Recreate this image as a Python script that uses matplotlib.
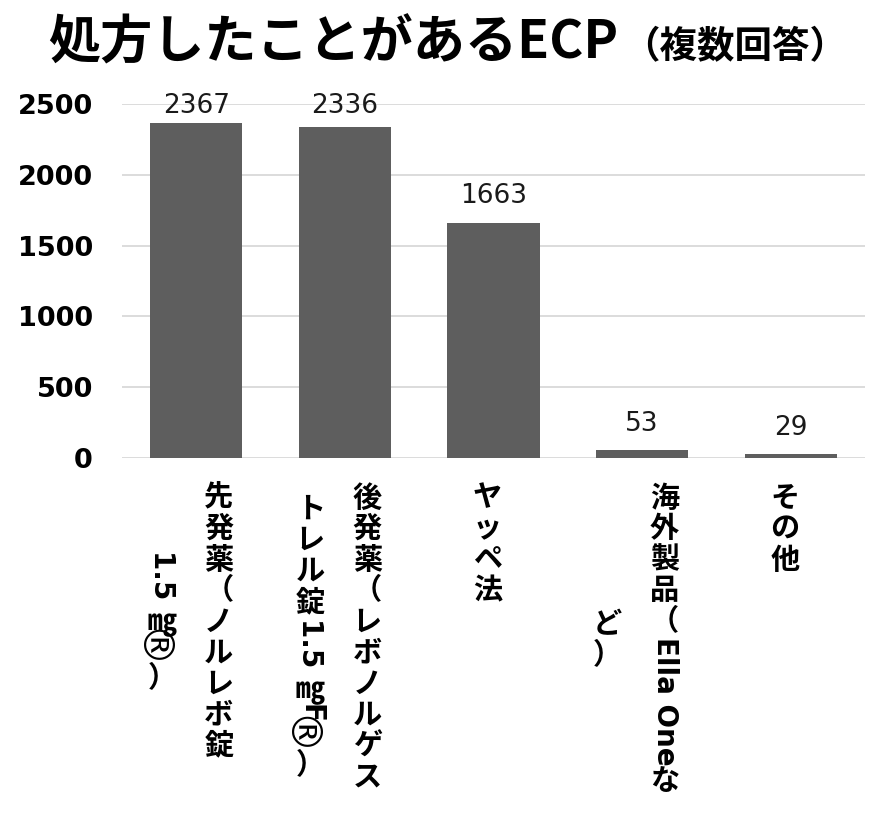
import re
import matplotlib
matplotlib.use("Agg")
import matplotlib.pyplot as plt

# data
title_main = "処方したことがあるECP"
title_sub = "（複数回答）"
label_columns = [
    ["先発薬（ノルレボ錠", "1.5 ㎎®）"],
    ["後発薬（レボノルゲス", "トレル錠1.5 ㎎F®）"],
    ["ヤッペ法"],
    ["海外製品（Ella Oneな", "ど）"],
    ["その他"],
]
values = [2367, 2336, 1663, 53, 29]
y_ticks = [0, 500, 1000, 1500, 2000, 2500]

W, H = 882, 819
JP = ["Noto Sans CJK JP", "DejaVu Sans"]

fig = plt.figure(figsize=(W / 100, H / 100), dpi=100)
ax = fig.add_axes([122 / W, 1 - 458 / H, (865 - 122) / W, (458 - 104) / H])

x = list(range(len(values)))
ax.bar(x, values, width=0.62, color="#5e5e5e", zorder=2)
ax.set_xlim(-0.5, len(values) - 0.5)
ax.set_ylim(0, 2500)
ax.set_yticks(y_ticks)
ax.set_yticklabels([str(t) for t in y_ticks], fontsize=19.5, fontweight="bold",
                   family="DejaVu Sans")
ax.set_xticks(x)
ax.set_xticklabels([])
ax.tick_params(length=0, axis="y", pad=21)
ax.tick_params(length=0, axis="x")
ax.yaxis.grid(True, color="#d9d9d9", linewidth=1.3)
ax.set_axisbelow(True)
for s in ax.spines.values():
    s.set_visible(False)

# value labels (pushed under the chart top when too high)
for i, v in enumerate(values):
    ax.text(i, min(v + 135, 2436), str(v), ha="center", va="baseline",
            fontsize=19, family="DejaVu Sans", color="#1a1a1a", clip_on=False)

renderer = fig.canvas.get_renderer()

# title
t1 = fig.text(48 / W, 1 - 58 / H, title_main, fontsize=37.5, fontweight="bold",
              family=JP, ha="left", va="baseline")
bb = t1.get_window_extent(renderer)
fig.text((bb.x1 + 4) / W, 1 - 58 / H, title_sub, fontsize=27, fontweight="bold",
         family=JP, ha="left", va="baseline")

# vertical (tategaki) category labels
step = 31
lab_kw = dict(fontsize=21, fontweight="bold", family=JP, color="black")
lat_kw = dict(fontsize=20, fontweight="bold", family="DejaVu Sans", color="black")
reg_kw = dict(fontsize=30, fontweight="normal", family="DejaVu Sans", color="black")
# glyphs with their own advance: (length px, rotation, x shift px, text style)
special = {"㎎": (27, 0, 0, lab_kw), "®": (27, -90, -13, reg_kw)}


def tokens(col):
    return re.findall(r"[A-Za-z0-9. ]+|.", col)


def run_len(tok):
    t = fig.text(0, 0, tok, rotation=-90, **lat_kw)
    h = t.get_window_extent(renderer).height
    t.remove()
    return h


def tok_len(tok):
    if tok in special:
        return special[tok][0]
    if tok[0].isascii():
        return run_len(tok)
    return step


def col_len(col):
    return sum(tok_len(t) for t in tokens(col))


def draw_col(xp, ytop, col):
    y = ytop
    for tok in tokens(col):
        n = tok_len(tok)
        if tok in special:
            _, rot, dx, kw = special[tok]
            fig.text((xp + dx) / W, 1 - (y + n / 2) / H, tok, rotation=rot,
                     ha="center", va="center", **kw)
        elif tok[0].isascii():
            fig.text(xp / W, 1 - y / H, tok, rotation=-90, ha="center", va="top", **lat_kw)
        else:
            fig.text(xp / W, 1 - (y + n / 2) / H, tok, ha="center", va="center", **lab_kw)
        y += n


label_top = 482
col_gap = 57
for i, cols in enumerate(label_columns):
    cx = ax.transData.transform((i, 0))[0] - 6
    lens = [col_len(c) for c in cols]
    longest = max(lens)
    n = len(cols)
    for j, c in enumerate(cols):
        xp = cx + (n - 1) * col_gap / 2 - j * col_gap
        draw_col(xp, label_top + (longest - lens[j]) / 2, c)

fig.savefig("out.png", dpi=100)
